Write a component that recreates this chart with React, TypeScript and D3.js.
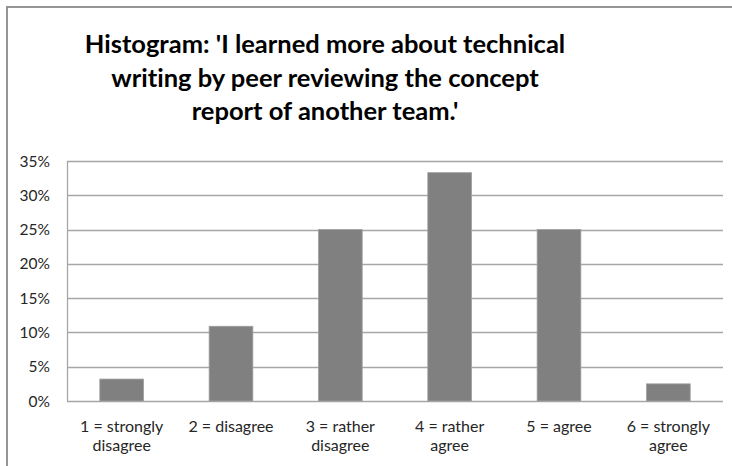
import { useMemo } from "react";
import * as d3 from "d3";

const WIDTH = 732;
const HEIGHT = 466;
const MARGIN = { top: 161, right: 9, bottom: 65, left: 67 };

const TITLE_LINES = [
  "Histogram: 'I learned more about technical",
  "writing by peer reviewing the concept",
  "report of another team.'",
];
const CATEGORIES = [
  "1 = strongly disagree",
  "2 = disagree",
  "3 = rather disagree",
  "4 = rather agree",
  "5 = agree",
  "6 = strongly agree",
];
const SHARES = [3.2, 10.9, 25.0, 33.3, 25.0, 2.5];
const Y_TICKS = [0, 5, 10, 15, 20, 25, 30, 35];

const FONT = "Lato, 'Open Sans', sans-serif";

// Excel wraps long category labels onto a second line
const wrapLabel = (s: string) => {
  if (s.length <= 12) return [s];
  const i = s.lastIndexOf(" ");
  return [s.slice(0, i), s.slice(i + 1)];
};

export default function App() {
  const boundsWidth = WIDTH - MARGIN.left - MARGIN.right;
  const boundsHeight = HEIGHT - MARGIN.top - MARGIN.bottom;

  const xScale = useMemo(
    () =>
      d3
        .scaleBand()
        .domain(CATEGORIES)
        .range([0, boundsWidth])
        .paddingInner(0.6)
        .paddingOuter(0.3),
    [boundsWidth]
  );

  const yScale = useMemo(
    () => d3.scaleLinear().domain([0, 35]).range([boundsHeight, 0]),
    [boundsHeight]
  );

  return (
    <svg
      width={WIDTH}
      height={HEIGHT}
      style={{ position: "absolute", left: 0, top: 0, background: "#fff", fontVariantLigatures: "none" }}
    >
      {/* chart frame, cropped on right and bottom */}
      <rect x={7} y={7} width={WIDTH + 20} height={HEIGHT + 20} fill="#fff" stroke="#8a8a8a" strokeWidth={1.8} />

      <g fontFamily={FONT} fontWeight={700} fontSize={25.5} fill="#000" textAnchor="middle">
        {TITLE_LINES.map((line, i) => (
          <text key={i} x={325} y={53 + i * 33.5}>
            {line}
          </text>
        ))}
      </g>

      <g transform={`translate(${MARGIN.left},${MARGIN.top})`}>
        {Y_TICKS.map((t) => (
          <g key={t}>
            <line
              x1={0}
              x2={boundsWidth}
              y1={Math.round(yScale(t)) + 0.5}
              y2={Math.round(yScale(t)) + 0.5}
              stroke="#a6a6a6"
              strokeWidth={1.3}
            />
            <text
              x={-17}
              y={yScale(t)}
              dy="0.36em"
              textAnchor="end"
              fontFamily={FONT}
              fontSize={15.5}
              fill="#262626"
            >
              {t}%
            </text>
          </g>
        ))}
        <line x1={0.5} x2={0.5} y1={0} y2={boundsHeight} stroke="#a6a6a6" strokeWidth={1.3} />

        {CATEGORIES.map((c, i) => (
          <rect
            key={c}
            x={xScale(c)}
            y={yScale(SHARES[i])}
            width={xScale.bandwidth()}
            height={boundsHeight - yScale(SHARES[i])}
            fill="#808080"
            stroke="#a0a0a0"
            strokeWidth={0.8}
          />
        ))}

        {CATEGORIES.map((c) => (
          <text
            key={c}
            x={(xScale(c) ?? 0) + xScale.bandwidth() / 2}
            y={boundsHeight + 31}
            textAnchor="middle"
            fontFamily={FONT}
            fontSize={16}
            fill="#262626"
          >
            {wrapLabel(c).map((l, j) => (
              <tspan key={j} x={(xScale(c) ?? 0) + xScale.bandwidth() / 2} dy={j === 0 ? 0 : 18.5}>
                {l}
              </tspan>
            ))}
          </text>
        ))}
      </g>
    </svg>
  );
}
